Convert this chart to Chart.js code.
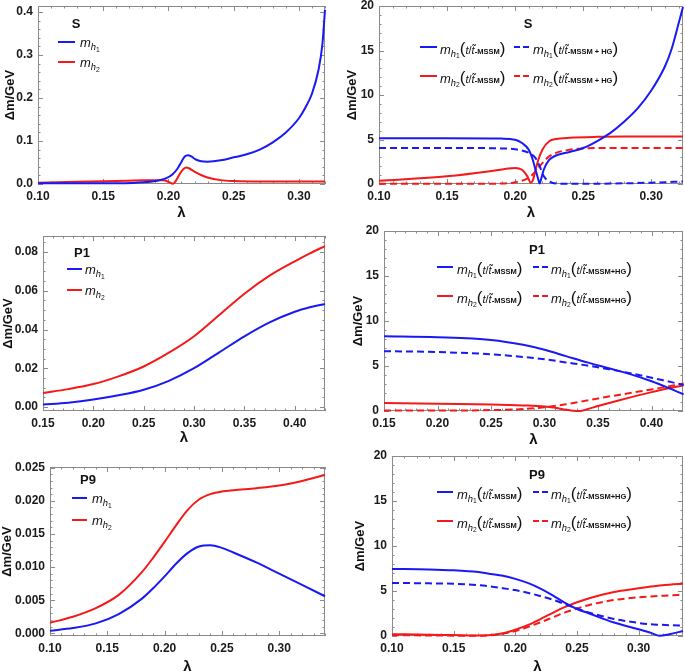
<!DOCTYPE html>
<html>
<head>
<meta charset="utf-8">
<script src="https://cdn.jsdelivr.net/npm/chart.js@4.4.0/dist/chart.umd.min.js"></script>
<style>
html, body { margin: 0; padding: 0; background: #fff; width: 685px; height: 672px; overflow: hidden; }
.panel { position: absolute; }
.lab { position: absolute; font-family: "Liberation Sans", Arial, sans-serif; font-size: 13px; color: #111; white-space: nowrap; transform: translateY(-50%); line-height: 1; }
.lab sub { font-size: 0.72em; vertical-align: -0.3em; line-height: 0; }
.lab sub sub { font-size: 0.72em; vertical-align: -0.25em; }
.ttl { position: absolute; font-family: "Liberation Sans", Arial, sans-serif; font-weight: bold; font-size: 13px; color: #111; transform: translate(-50%, -50%); }
.par { font-size: 17px; }
.tt { font-size: 11px; }
.ms { font-size: 7.5px; font-weight: bold; font-style: normal; }
svg.key { position: absolute; overflow: visible; }
</style>
</head>
<body>
<script>
// ---- data: S benchmark, left panel
const sLamH1 = [0.10, 0.12, 0.14, 0.16, 0.175, 0.19, 0.198, 0.203, 0.207, 0.21, 0.2125, 0.215, 0.2175, 0.221, 0.225, 0.23, 0.24, 0.25, 0.26, 0.27, 0.28, 0.29, 0.30, 0.305, 0.31, 0.315, 0.318, 0.32];
const sH1 = [0.0015, 0.0015, 0.0015, 0.0018, 0.003, 0.007, 0.013, 0.022, 0.036, 0.052, 0.064, 0.067, 0.064, 0.057, 0.053, 0.052, 0.055, 0.062, 0.069, 0.08, 0.097, 0.12, 0.153, 0.178, 0.21, 0.265, 0.325, 0.405];
const sLamH2 = [0.10, 0.13, 0.16, 0.18, 0.19, 0.196, 0.2, 0.2035, 0.206, 0.209, 0.2115, 0.2137, 0.216, 0.22, 0.225, 0.23, 0.24, 0.25, 0.27, 0.30, 0.32];
const sH2 = [0.003, 0.005, 0.007, 0.0085, 0.009, 0.0085, 0.005, 0.0005, 0.009, 0.025, 0.035, 0.0386, 0.036, 0.029, 0.021, 0.015, 0.009, 0.007, 0.006, 0.006, 0.006];

// ---- S benchmark, right panel (GeV)
const sLamR1 = [0.10, 0.15, 0.19, 0.20, 0.205, 0.21, 0.213, 0.215, 0.217, 0.218, 0.219, 0.221, 0.225, 0.23, 0.24, 0.25, 0.26, 0.27, 0.28, 0.29, 0.30, 0.31, 0.315, 0.32, 0.3233];
const sH1R = [5.15, 5.15, 5.1, 4.97, 4.6, 3.85, 2.7, 1.6, 0.5, 0.05, 0.5, 1.6, 2.7, 3.2, 3.6, 4.05, 4.8, 5.75, 7.0, 8.5, 10.5, 13.2, 15.2, 18.0, 19.9];
const sLamR1hg = [0.10, 0.15, 0.19, 0.20, 0.21, 0.215, 0.218, 0.221, 0.225, 0.23, 0.24, 0.27, 0.30, 0.3233];
const sH1Rhg = [4.05, 4.05, 4.0, 3.9, 3.5, 2.9, 2.0, 0.9, 0.3, 0.05, 0.02, 0.05, 0.15, 0.28];
const sLamR2 = [0.10, 0.15, 0.18, 0.195, 0.20, 0.205, 0.209, 0.2115, 0.213, 0.215, 0.217, 0.22, 0.225, 0.23, 0.24, 0.26, 0.29, 0.3233];
const sH2R = [0.37, 0.86, 1.4, 1.75, 1.8, 1.6, 0.86, 0.15, 0.4, 1.6, 2.7, 3.85, 4.8, 5.05, 5.2, 5.3, 5.33, 5.35];
const sLamR2hg = [0.10, 0.15, 0.19, 0.20, 0.21, 0.215, 0.22, 0.225, 0.23, 0.24, 0.25, 0.27, 0.3233];
const sH2Rhg = [0.02, 0.02, 0.05, 0.2, 0.7, 1.4, 2.35, 3.1, 3.5, 3.85, 4.0, 4.05, 4.05];

// ---- P1 benchmark
const p1Lam = [0.15, 0.175, 0.20, 0.225, 0.25, 0.275, 0.30, 0.325, 0.35, 0.375, 0.40, 0.415, 0.43];
const p1H1 = [0.0012, 0.0022, 0.0038, 0.006, 0.0089, 0.0135, 0.0200, 0.0282, 0.0365, 0.0437, 0.0492, 0.0515, 0.0532];
const p1H2 = [0.0072, 0.0092, 0.0118, 0.0158, 0.0209, 0.0280, 0.0365, 0.0475, 0.0585, 0.0678, 0.0752, 0.0793, 0.0831];
const p1LamR = [0.15, 0.20, 0.25, 0.28, 0.30, 0.32, 0.34, 0.36, 0.38, 0.40, 0.415, 0.43];
const p1H1R = [8.3, 8.2, 7.9, 7.35, 6.8, 6.1, 5.4, 4.75, 4.1, 3.3, 2.6, 1.85];
const p1H1Rhg = [6.65, 6.55, 6.3, 6.0, 5.75, 5.4, 5.05, 4.65, 4.2, 3.7, 3.3, 2.9];
const p1LamR2 = [0.15, 0.20, 0.25, 0.28, 0.30, 0.31, 0.32, 0.327, 0.333, 0.34, 0.35, 0.37, 0.40, 0.43];
const p1H2R = [0.9, 0.8, 0.72, 0.62, 0.5, 0.35, 0.15, 0.02, 0.0, 0.2, 0.55, 1.2, 2.1, 2.85];
const p1LamR2hg = [0.15, 0.20, 0.25, 0.28, 0.30, 0.32, 0.35, 0.38, 0.40, 0.43];
const p1H2Rhg = [0.05, 0.05, 0.1, 0.22, 0.42, 0.75, 1.4, 2.0, 2.4, 3.05];

// ---- P9 benchmark
const p9Lam = [0.10, 0.12, 0.14, 0.16, 0.18, 0.19, 0.20, 0.21, 0.22, 0.23, 0.24, 0.25, 0.26, 0.28, 0.30, 0.32, 0.34];
const p9H1 = [0.0004, 0.0008, 0.0015, 0.0029, 0.0052, 0.0068, 0.0086, 0.0105, 0.0121, 0.0131, 0.0133, 0.0129, 0.0122, 0.0107, 0.009, 0.0073, 0.0056];
const p9H2 = [0.0016, 0.0025, 0.0038, 0.0058, 0.0092, 0.0114, 0.0138, 0.0163, 0.0186, 0.0202, 0.021, 0.0214, 0.0216, 0.0219, 0.0223, 0.023, 0.0239];
const p9LamR = [0.10, 0.13, 0.15, 0.17, 0.18, 0.19, 0.20, 0.21, 0.22, 0.23, 0.24, 0.25, 0.26, 0.28, 0.30, 0.31, 0.317, 0.325, 0.336];
const p9H1R = [7.45, 7.4, 7.3, 7.1, 6.9, 6.7, 6.35, 5.9, 5.3, 4.55, 3.7, 3.0, 2.5, 1.5, 0.75, 0.35, 0.02, 0.2, 0.55];
const p9H1Rhg = [5.9, 5.85, 5.8, 5.65, 5.5, 5.3, 5.1, 4.8, 4.45, 4.05, 3.55, 3.05, 2.6, 1.9, 1.45, 1.3, 1.25, 1.2, 1.15];
const p9H2R = [0.2, 0.15, 0.1, 0.06, 0.1, 0.3, 0.7, 1.2, 1.85, 2.55, 3.2, 3.75, 4.2, 4.9, 5.3, 5.5, 5.6, 5.7, 5.8];
const p9H2Rhg = [0.1, 0.06, 0.04, 0.03, 0.08, 0.25, 0.55, 1.0, 1.5, 2.05, 2.6, 3.05, 3.45, 4.0, 4.3, 4.4, 4.45, 4.5, 4.6];

// ---- tick labels
const xTicksA = [0.10, 0.15, 0.20, 0.25, 0.30];
const xTicksB = [0.15, 0.20, 0.25, 0.30, 0.35, 0.40];
const yTicksS = [0.0, 0.1, 0.2, 0.3, 0.4];
const yTicksP1 = [0.00, 0.02, 0.04, 0.06, 0.08];
const yTicksP9 = [0.000, 0.005, 0.010, 0.015, 0.020, 0.025];
const yTicksR = [0, 5, 10, 15, 20];

const BLUE = 'rgb(25,25,245)';
const RED = 'rgb(245,25,25)';
const FONT = '"Liberation Sans", Arial, sans-serif';

const pts = (xs, ys) => xs.map((x, i) => ({ x, y: ys[i] }));

// frame + inside ticks (major and minor) on all four sides, Mathematica style
const framePlugin = {
  id: 'frame',
  beforeDatasetsDraw(chart, args, o) {
    const { ctx, chartArea: a, scales: { x, y } } = chart;
    ctx.save();
    ctx.strokeStyle = '#8a8a8a';
    ctx.lineWidth = 1;
    ctx.strokeRect(a.left + 0.5, a.top + 0.5, a.right - a.left - 1, a.bottom - a.top - 1);
    const marks = (scale, major, minor, cb) => {
      const n0 = Math.ceil(scale.min / minor - 1e-6), n1 = Math.floor(scale.max / minor + 1e-6);
      for (let n = n0; n <= n1; n++) {
        const v = n * minor;
        const isMajor = major.some(m => Math.abs(m - v) < minor / 10);
        cb(Math.round(scale.getPixelForValue(v)) + 0.5, isMajor ? 5 : 2.5);
      }
    };
    ctx.beginPath();
    marks(x, o.xt, o.xm, (px, l) => {
      ctx.moveTo(px, a.bottom); ctx.lineTo(px, a.bottom - l);
      ctx.moveTo(px, a.top); ctx.lineTo(px, a.top + l);
    });
    marks(y, o.yt, o.ym, (py, l) => {
      ctx.moveTo(a.left, py); ctx.lineTo(a.left + l, py);
      ctx.moveTo(a.right, py); ctx.lineTo(a.right - l, py);
    });
    ctx.stroke();
    ctx.restore();
  }
};

function panel(p) {
  const [bl, bt, bw, bh] = p.box;
  const f = p.frame;
  const div = document.createElement('div');
  div.className = 'panel';
  Object.assign(div.style, { left: bl + 'px', top: bt + 'px', width: bw + 'px', height: bh + 'px' });
  const cv = document.createElement('canvas');
  cv.width = bw; cv.height = bh;
  div.appendChild(cv);
  document.body.appendChild(div);

  const tickFont = { family: FONT, size: 12, weight: 'bold' };
  new Chart(cv, {
    type: 'line',
    data: {
      datasets: p.series.map(s => ({
        data: pts(s.x, s.y),
        borderColor: s.c,
        borderWidth: 2,
        borderDash: s.dash ? [7, 4] : [],
        pointRadius: 0,
        fill: false,
        cubicInterpolationMode: 'monotone',
        clip: 3
      }))
    },
    options: {
      responsive: false,
      animation: false,
      devicePixelRatio: 1,
      layout: { padding: { left: 0, top: f.t - bt, right: bl + bw - f.r, bottom: 0 } },
      plugins: {
        legend: { display: false },
        tooltip: { enabled: false },
        frame: { xt: p.xt, xm: p.xm, yt: p.yt, ym: p.ym }
      },
      scales: {
        x: {
          type: 'linear', min: p.xr[0], max: p.xr[1],
          afterBuildTicks: s => { s.ticks = p.xt.map(v => ({ value: v })); },
          afterFit: s => { s.height = bt + bh - f.b; s.paddingLeft = 0; s.paddingRight = 0; },
          grid: { display: false, drawTicks: false },
          border: { display: false },
          ticks: { font: tickFont, color: '#1a1a1a', padding: 5, maxRotation: 0, autoSkip: false, callback: v => v.toFixed(2) },
          title: { display: true, text: 'λ', font: { family: FONT, size: 15, weight: 'bold' }, color: '#111', padding: 0 }
        },
        y: {
          type: 'linear', min: p.yr[0], max: p.yr[1],
          afterBuildTicks: s => { s.ticks = p.yt.map(v => ({ value: v })); },
          afterFit: s => { s.width = f.l - bl; s.paddingTop = 0; s.paddingBottom = 0; },
          grid: { display: false, drawTicks: false },
          border: { display: false },
          ticks: { font: tickFont, color: '#1a1a1a', padding: 5, autoSkip: false, callback: v => v.toFixed(p.yd) },
          title: { display: true, text: 'Δm/GeV', font: { family: FONT, size: 13, weight: 'bold' }, color: '#111',
                   padding: { top: Math.max(0, p.titleX - bl - 7.8), bottom: 0 } }
        }
      }
    },
    plugins: [framePlugin]
  });
}

// ---- legends (HTML so the subscripts stay real text)
function key(x1, x2, y, color, dash) {
  const ns = 'http://www.w3.org/2000/svg';
  const svg = document.createElementNS(ns, 'svg');
  svg.setAttribute('class', 'key');
  svg.setAttribute('width', x2 - x1); svg.setAttribute('height', 4);
  svg.style.left = x1 + 'px'; svg.style.top = (y - 2) + 'px';
  const ln = document.createElementNS(ns, 'line');
  ln.setAttribute('x1', 0); ln.setAttribute('x2', x2 - x1);
  ln.setAttribute('y1', 2); ln.setAttribute('y2', 2);
  ln.setAttribute('stroke', color); ln.setAttribute('stroke-width', 2);
  if (dash) ln.setAttribute('stroke-dasharray', '6 3');
  svg.appendChild(ln);
  document.body.appendChild(svg);
}
function text(x, y, html) {
  const d = document.createElement('div');
  d.className = 'lab';
  d.style.left = x + 'px'; d.style.top = (y + 1) + 'px';
  d.innerHTML = html;
  document.body.appendChild(d);
}
function title(x, y, t) {
  const d = document.createElement('div');
  d.className = 'ttl';
  d.style.left = x + 'px'; d.style.top = y + 'px';
  d.textContent = t;
  document.body.appendChild(d);
}
const mh = n => `<i>m</i><sub><i>h</i><sub>${n}</sub></sub>`;
const mhR = (n, tail) => mh(n) + `<span class="par">(</span><i class="tt">t</i><span class="tt">/</span><i class="tt">t\u0303</i><span class="ms">-MSSM${tail}</span><span class="par">)</span>`;

function leftLegend(t, tx, ty, r1, r2, l1, l2, txt) {
  title(tx, ty, t);
  key(l1, l2, r1, BLUE, false); text(txt, r1, mh(1));
  key(l1, l2, r2, RED, false); text(txt, r2, mh(2));
}
function rightLegend(t, tx, ty, r1, r2, a1, a2, at, b1, b2, bt, hg) {
  title(tx, ty, t);
  key(a1, a2, r1, BLUE, false); text(at, r1, mhR(1, ''));
  key(b1, b2, r1, BLUE, true); text(bt, r1, mhR(1, hg));
  key(a1, a2, r2, RED, false); text(at, r2, mhR(2, ''));
  key(b1, b2, r2, RED, true); text(bt, r2, mhR(2, hg));
}

// ---- panels
panel({ box: [0, 0, 340, 222], frame: { l: 38, r: 325, t: 6, b: 184 }, titleX: 10,
  xr: [0.10, 0.32], yr: [0, 0.414], xt: xTicksA, xm: 0.01, yt: yTicksS, ym: 0.02, yd: 1,
  series: [{ x: sLamH1, y: sH1, c: BLUE }, { x: sLamH2, y: sH2, c: RED }] });

panel({ box: [340, 0, 345, 222], frame: { l: 379, r: 683, t: 6, b: 184 }, titleX: 352,
  xr: [0.10, 0.3233], yr: [0, 20], xt: xTicksA, xm: 0.01, yt: yTicksR, ym: 1, yd: 0,
  series: [{ x: sLamR1, y: sH1R, c: BLUE }, { x: sLamR1hg, y: sH1Rhg, c: BLUE, dash: true },
           { x: sLamR2, y: sH2R, c: RED }, { x: sLamR2hg, y: sH2Rhg, c: RED, dash: true }] });

panel({ box: [0, 222, 340, 225], frame: { l: 43, r: 325, t: 236, b: 411 }, titleX: 8,
  xr: [0.15, 0.43], yr: [-0.0021, 0.0883], xt: xTicksB, xm: 0.01, yt: yTicksP1, ym: 0.005, yd: 2,
  series: [{ x: p1Lam, y: p1H1, c: BLUE }, { x: p1Lam, y: p1H2, c: RED }] });

panel({ box: [340, 222, 345, 227], frame: { l: 384, r: 683, t: 231, b: 411 }, titleX: 358,
  xr: [0.15, 0.4294], yr: [0, 20], xt: xTicksB, xm: 0.01, yt: yTicksR, ym: 1, yd: 0,
  series: [{ x: p1LamR, y: p1H1R, c: BLUE }, { x: p1LamR, y: p1H1Rhg, c: BLUE, dash: true },
           { x: p1LamR2, y: p1H2R, c: RED }, { x: p1LamR2hg, y: p1H2Rhg, c: RED, dash: true }] });

panel({ box: [0, 446, 340, 230], frame: { l: 50, r: 325, t: 467, b: 636 }, titleX: 7,
  xr: [0.10, 0.34], yr: [-0.0004, 0.0251], xt: xTicksA, xm: 0.01, yt: yTicksP9, ym: 0.001, yd: 3,
  series: [{ x: p9Lam, y: p9H1, c: BLUE }, { x: p9Lam, y: p9H2, c: RED }] });

panel({ box: [340, 446, 345, 230], frame: { l: 392, r: 683, t: 456, b: 636 }, titleX: 360,
  xr: [0.10, 0.336], yr: [0, 20], xt: xTicksA, xm: 0.01, yt: yTicksR, ym: 1, yd: 0,
  series: [{ x: p9LamR, y: p9H1R, c: BLUE }, { x: p9LamR, y: p9H1Rhg, c: BLUE, dash: true },
           { x: p9LamR, y: p9H2R, c: RED }, { x: p9LamR, y: p9H2Rhg, c: RED, dash: true }] });

leftLegend('S', 76, 23, 42, 62, 58, 75, 80);
leftLegend('P1', 82, 252, 269, 290, 67, 82, 85);
leftLegend('P9', 88, 479, 498, 520, 72, 87, 92);
rightLegend('S', 528, 23, 47, 76, 420, 437, 440, 514, 530, 533, ' + HG');
rightLegend('P1', 537, 249, 267, 296, 437, 453, 457, 533, 548, 551, '+HG');
rightLegend('P9', 537, 474, 492, 521, 437, 453, 457, 533, 548, 551, '+HG');
</script>
</body>
</html>
